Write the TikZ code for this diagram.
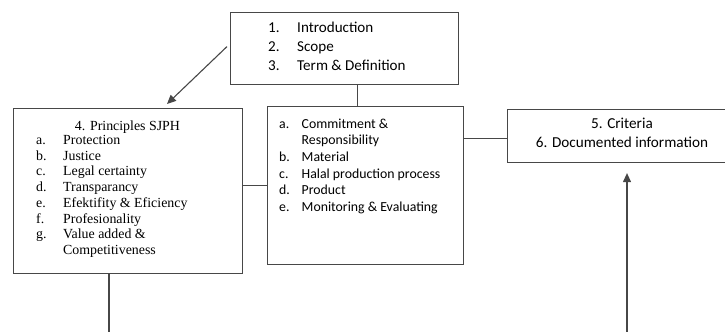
\documentclass[tikz,border=0pt]{standalone}
\usepackage{fontspec}
\setmainfont{Carlito}
\newfontfamily\timesf{Liberation Serif}
\usetikzlibrary{arrows.meta}
\tikzset{
  box/.style={draw=black!72, line width=1.1bp, rectangle, inner sep=0pt, anchor=north west},
  conn/.style={draw=black!72, line width=1.1bp},
  arr/.style={conn, -{Triangle[length=9bp,width=8bp]}},
  txt/.style={inner sep=0pt, anchor=base west},
  ctxt/.style={inner sep=0pt, anchor=base},
  topf/.style={font=\fontsize{15.1bp}{19bp}\selectfont},
  midf/.style={font=\fontsize{13.8bp}{16.7bp}\selectfont},
  rightf/.style={font=\fontsize{15.2bp}{19bp}\selectfont},
  leftf/.style={font=\timesf\fontsize{13.9bp}{15.7bp}\selectfont},
}
\begin{document}
\begin{tikzpicture}[x=1bp,y=-1bp]
\useasboundingbox (0,0) rectangle (725,331);
% boxes
\node[box, minimum width=228bp, minimum height=72bp] (top) at (230,12) {};
\node[box, minimum width=229bp, minimum height=165bp] (left) at (13,108) {};
\node[box, minimum width=196bp, minimum height=158bp] (mid) at (267,106) {};
\node[box, minimum width=230bp, minimum height=53bp] (right) at (507,109) {};
% top text
\node[txt,topf] (n1) at (268,32) {1.};
\node[txt,topf] (i1) at (297,32) {Introduction};
\node[txt,topf] (n2) at (268,51) {2.};
\node[txt,topf] (i2) at (297,51) {Scope};
\node[txt,topf] (n3) at (268,70) {3.};
\node[txt,topf] (i3) at (297,70) {Term \& Definition};
% left text
\node[ctxt,leftf] (ltitle) at (127.5,130) {4. Principles SJPH};
\node[txt,leftf] (la) at (36,144.5) {a.};
\node[txt,leftf] (lat) at (63,144.5) {Protection};
\node[txt,leftf] (lb) at (36,160.2) {b.};
\node[txt,leftf] (lbt) at (63,160.2) {Justice};
\node[txt,leftf] (lc) at (36,175.9) {c.};
\node[txt,leftf] (lct) at (63,175.9) {Legal certainty};
\node[txt,leftf] (ld) at (36,191.6) {d.};
\node[txt,leftf] (ldt) at (63,191.6) {Transparancy};
\node[txt,leftf] (le) at (36,207.3) {e.};
\node[txt,leftf] (let) at (63,207.3) {Efektifity \& Eficiency};
\node[txt,leftf] (lf) at (36,223) {f.};
\node[txt,leftf] (lft) at (63,223) {Profesionality};
\node[txt,leftf] (lg) at (36,238.7) {g.};
\node[txt,leftf] (lgt) at (63,238.7) {Value added \&};
\node[txt,leftf] (lgt2) at (63,254.4) {Competitiveness};
% middle text
\node[txt,midf] (ma) at (279,128) {a.};
\node[txt,midf] (mat) at (301.5,128) {Commitment \&};
\node[txt,midf] (mat2) at (301.5,144.7) {Responsibility};
\node[txt,midf] (mb) at (279,161.4) {b.};
\node[txt,midf] (mbt) at (301.5,161.4) {Material};
\node[txt,midf] (mc) at (279,178.1) {c.};
\node[txt,midf] (mct) at (301.5,178.1) {Halal production process};
\node[txt,midf] (md) at (279,194.8) {d.};
\node[txt,midf] (mdt) at (301.5,194.8) {Product};
\node[txt,midf] (me) at (279,211.5) {e.};
\node[txt,midf] (met) at (301.5,211.5) {Monitoring \& Evaluating};
% right text
\node[ctxt,rightf] (r1) at (622,128.7) {5. Criteria};
\node[ctxt,rightf] (r2) at (622,147) {6. Documented information};
% free ends
\coordinate (lbot) at (109,340);
\coordinate (rbot) at (627,340);
% connectors
\draw[arr] ([xshift=-3bp,yshift=2bp]top.west) -- ([xshift=154bp,yshift=4bp]left.north west);
\draw[conn] ([xshift=13bp]top.south) -- ([xshift=13bp]top.south |- mid.north);
\draw[conn] (mid.west) -- (mid.west -| left.east);
\draw[conn] ([yshift=-2.5bp]right.west) -- ([yshift=-2.5bp]right.west -| mid.east);
\draw[conn] (left.south -| lbot) -- (lbot);
\draw[arr] (rbot) -- ([yshift=-10bp]right.south -| rbot);
\end{tikzpicture}
\end{document}
